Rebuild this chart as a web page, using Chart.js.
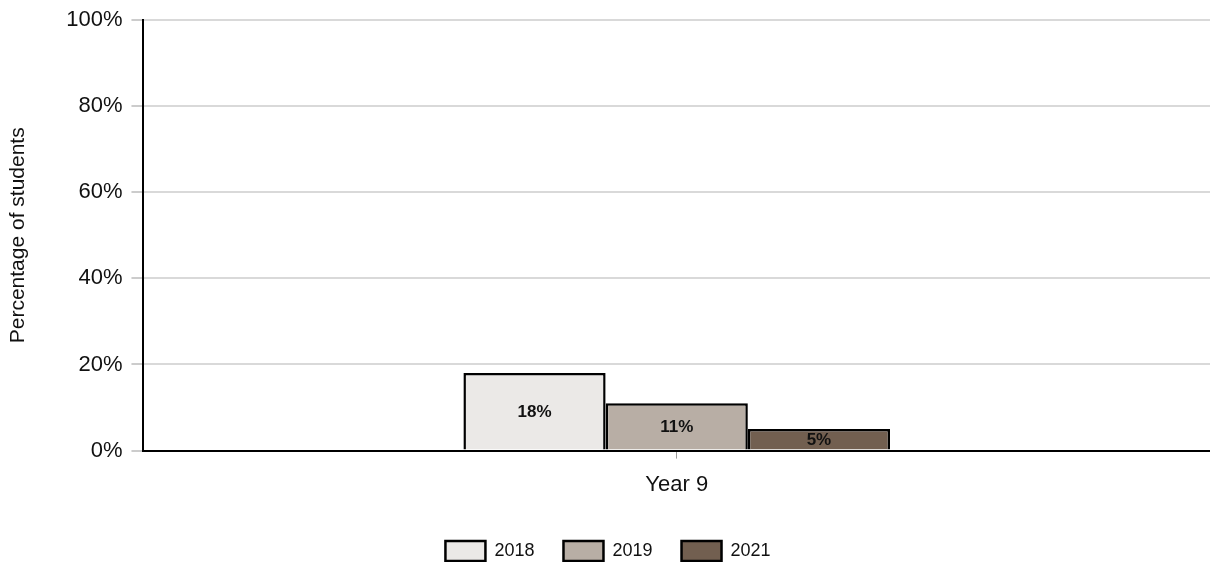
<!DOCTYPE html>
<html>
<head>
<meta charset="utf-8">
<script src="https://cdn.jsdelivr.net/npm/chart.js@4"></script>
<style>
  html, body { margin: 0; padding: 0; background: #fff; }
  #wrap { width: 1210px; height: 562px; }
</style>
</head>
<body>
<div id="wrap"><canvas id="chart"></canvas></div>
<script>
const categories = ['Year 9'];
const years = ['2018', '2019', '2021'];
const values2018 = [18];
const values2019 = [11];
const values2021 = [5];
const yTicks = [0, 20, 40, 60, 80, 100];
const colors = ['#ebe9e7', '#b8aea5', '#725f50'];

const fontFamily = "'Liberation Sans', Arial, sans-serif";

// draws the value in the middle of each bar
const barLabels = {
    id: 'barLabels',
    afterDatasetsDraw(chart) {
        const ctx = chart.ctx;
        ctx.save();
        ctx.font = 'bold 17px ' + fontFamily;
        ctx.fillStyle = '#111';
        ctx.textAlign = 'center';
        ctx.textBaseline = 'middle';
        chart.data.datasets.forEach((ds, i) => {
            chart.getDatasetMeta(i).data.forEach((bar, j) => {
                ctx.fillText(ds.data[j] + '%', bar.x, (bar.y + bar.base) / 2 + 1);
            });
        });
        ctx.restore();
    }
};

const seriesValues = [values2018, values2019, values2021];

new Chart(document.getElementById('chart'), {
    type: 'bar',
    data: {
        labels: categories,
        datasets: years.map((y, i) => ({
            label: y,
            data: seriesValues[i],
            backgroundColor: colors[i],
            borderColor: '#000',
            borderWidth: 2.5,
            barPercentage: 1,
            categoryPercentage: 0.4
        }))
    },
    options: {
        responsive: true,
        maintainAspectRatio: false,
        animation: false,
        layout: { padding: { top: 7, right: 0, bottom: -9, left: 6 } },
        plugins: {
            legend: {
                position: 'bottom',
                labels: {
                    boxWidth: 40,
                    boxHeight: 20,
                    padding: 29,
                    color: '#111',
                    font: { family: fontFamily, size: 18 }
                }
            },
            tooltip: { enabled: false }
        },
        scales: {
            x: {
                grid: {
                    drawOnChartArea: false,
                    offset: false,
                    tickLength: 8,
                    tickColor: '#999'
                },
                border: { color: '#000', width: 2 },
                ticks: { color: '#111', padding: 13.5, font: { family: fontFamily, size: 22 } }
            },
            y: {
                min: 0,
                max: 100,
                afterBuildTicks: axis => { axis.ticks = yTicks.map(v => ({ value: v })); },
                grid: {
                    color: '#d9d9d9',
                    lineWidth: 2,
                    tickLength: 12,
                    tickColor: '#999',
                    tickWidth: 1
                },
                border: { color: '#000', width: 2 },
                ticks: {
                    color: '#111',
                    padding: 9,
                    font: { family: fontFamily, size: 22, lineHeight: 1 },
                    callback: v => v + '%'
                },
                title: {
                    display: true,
                    text: 'Percentage of students',
                    color: '#111',
                    padding: { top: 0, bottom: 26 },
                    font: { family: fontFamily, size: 21 }
                }
            }
        }
    },
    plugins: [barLabels]
});
</script>
</body>
</html>
